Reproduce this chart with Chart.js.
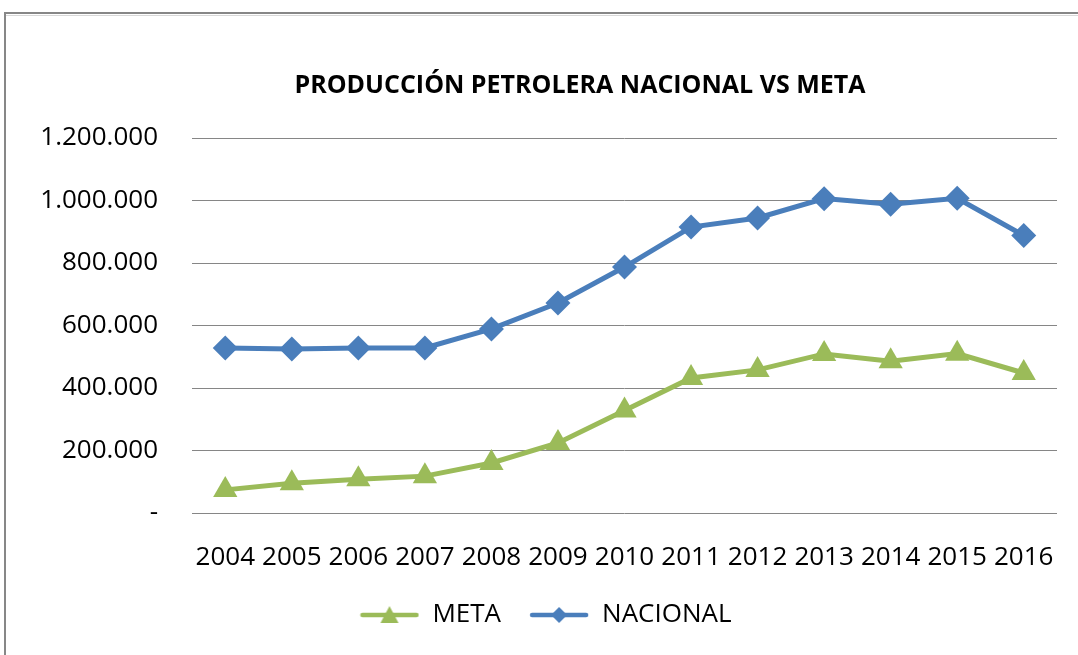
<!DOCTYPE html>
<html>
<head>
<meta charset="utf-8">
<script src="https://cdn.jsdelivr.net/npm/chart.js@4.4.1/dist/chart.umd.min.js"></script>
<style>
  html, body { margin: 0; padding: 0; background: #fff; }
  canvas { display: block; }
</style>
</head>
<body>
<canvas id="petroChart" width="1078" height="655"></canvas>
<script>
// data
var years = ['2004', '2005', '2006', '2007', '2008', '2009', '2010', '2011', '2012', '2013', '2014', '2015', '2016'];
var meta = [74000, 95000, 108000, 118000, 160000, 224000, 328000, 432000, 458000, 509000, 486000, 510000, 448000];
var nacional = [528000, 525000, 528000, 528000, 589000, 672000, 787000, 915000, 944000, 1006000, 988000, 1007000, 888000];
var yTicks = [0, 200000, 400000, 600000, 800000, 1000000, 1200000];
var chartTitle = 'PRODUCCIÓN PETROLERA NACIONAL VS META';

var BLUE = '#4a7ebb';
var GREEN = '#9bbb59';
var FONT = "'Open Sans', 'Liberation Sans', sans-serif";

function formatMiles(v) {
    if (v === 0) return '-';
    return String(v).replace(/\B(?=(\d{3})+(?!\d))/g, '.');
}

// legend swatch: short line with the series marker in the middle
function legendSwatch(color, shape) {
    var c = document.createElement('canvas');
    c.width = 60;
    c.height = 24;
    var g = c.getContext('2d');
    g.strokeStyle = color;
    g.lineWidth = 4.5;
    g.lineCap = 'round';
    g.beginPath();
    g.moveTo(3, 12);
    g.lineTo(57, 12);
    g.stroke();
    g.fillStyle = color;
    g.beginPath();
    if (shape === 'triangle') {
        g.moveTo(30, 3);
        g.lineTo(39, 20);
        g.lineTo(21, 20);
    } else {
        g.moveTo(30, 4);
        g.lineTo(38, 12);
        g.lineTo(30, 20);
        g.lineTo(22, 12);
    }
    g.closePath();
    g.fill();
    return c;
}

var swatches = [legendSwatch(GREEN, 'triangle'), legendSwatch(BLUE, 'diamond')];

// grey chart frame (top/left edges) and the title, placed like the original sheet
var framePlugin = {
    id: 'frame',
    beforeDraw: function(chart) {
        var ctx = chart.ctx;
        ctx.save();
        ctx.fillStyle = '#ffffff';
        ctx.fillRect(0, 0, chart.width, chart.height);
        ctx.strokeStyle = '#d8d8d8';
        ctx.lineWidth = 1;
        ctx.beginPath();
        ctx.moveTo(6, 15.5);
        ctx.lineTo(chart.width, 15.5);
        ctx.stroke();
        ctx.strokeStyle = '#878787';
        ctx.lineWidth = 2;
        ctx.beginPath();
        ctx.moveTo(5, chart.height);
        ctx.lineTo(5, 13);
        ctx.lineTo(chart.width, 13);
        ctx.stroke();
        ctx.restore();
    },
    afterDraw: function(chart) {
        var ctx = chart.ctx;
        ctx.save();
        ctx.fillStyle = '#000';
        ctx.font = 'bold 25px ' + FONT;
        ctx.textAlign = 'center';
        ctx.textBaseline = 'middle';
        ctx.fillText(chartTitle, 580, 86);
        ctx.restore();
    }
};

var ctx = document.getElementById('petroChart').getContext('2d');
var chart = new Chart(ctx, {
    type: 'line',
    data: {
        labels: years,
        datasets: [{
            label: 'META',
            data: meta,
            borderColor: GREEN,
            backgroundColor: GREEN,
            borderWidth: 5,
            pointStyle: 'triangle',
            pointRadius: 14,
            pointBorderWidth: 0,
            tension: 0
        }, {
            label: 'NACIONAL',
            data: nacional,
            borderColor: BLUE,
            backgroundColor: BLUE,
            borderWidth: 5,
            pointStyle: 'rectRot',
            pointRadius: 12.5,
            pointBorderWidth: 0,
            tension: 0
        }]
    },
    options: {
        responsive: false,
        animation: false,
        layout: {
            padding: { top: 138, right: 21, bottom: 17, left: 34 }
        },
        plugins: {
            title: { display: false },
            legend: {
                position: 'bottom',
                labels: {
                    color: '#000',
                    font: { family: FONT, size: 26 },
                    usePointStyle: true,
                    pointStyleWidth: 60,
                    padding: 28,
                    generateLabels: function(ch) {
                        return ch.data.datasets.map(function(ds, i) {
                            return {
                                text: ds.label,
                                pointStyle: swatches[i],
                                fillStyle: ds.borderColor,
                                strokeStyle: ds.borderColor,
                                lineWidth: 0,
                                fontColor: '#000',
                                hidden: false,
                                datasetIndex: i
                            };
                        });
                    }
                }
            },
            tooltip: { enabled: false }
        },
        scales: {
            x: {
                offset: true,
                afterFit: function(scale) { scale.height = 61; },
                grid: { display: false },
                border: { display: false },
                ticks: {
                    color: '#000',
                    font: { family: FONT, size: 26 },
                    padding: 21,
                    maxRotation: 0,
                    autoSkip: false
                }
            },
            y: {
                min: 0,
                max: 1200000,
                afterFit: function(scale) { scale.width = 158; },
                afterBuildTicks: function(scale) {
                    scale.ticks = yTicks.map(function(v) { return { value: v }; });
                },
                grid: { color: '#868686', lineWidth: 1, drawTicks: false },
                border: { display: false },
                ticks: {
                    color: '#000',
                    font: { family: FONT, size: 26 },
                    padding: 34,
                    callback: function(v) { return formatMiles(v); }
                }
            }
        }
    },
    plugins: [framePlugin]
});
</script>
</body>
</html>
